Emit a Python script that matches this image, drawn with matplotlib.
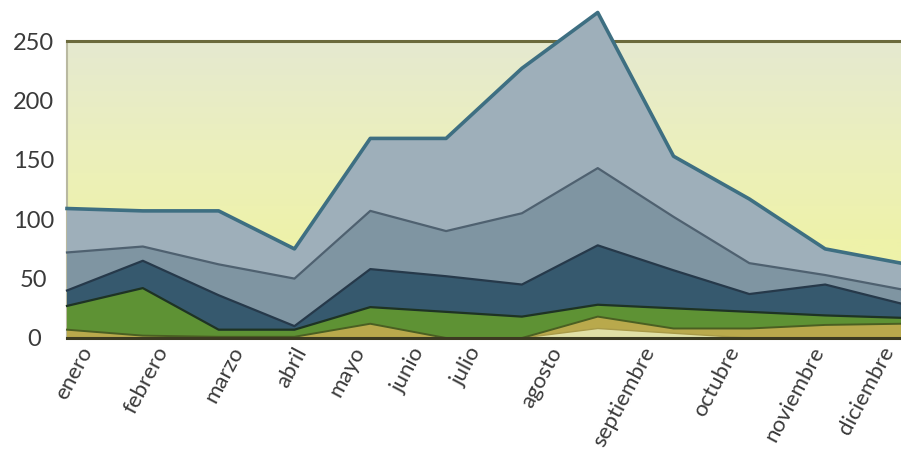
import numpy as np
import matplotlib.pyplot as plt
from matplotlib.colors import LinearSegmentedColormap

meses = ['enero', 'febrero', 'marzo', 'abril', 'mayo', 'junio', 'julio',
         'agosto', 'septiembre', 'octubre', 'noviembre', 'diciembre']

# capas de abajo hacia arriba
capa_clara = [0, 0, 0, 0, 0, 0, 0, 8, 4, 0, 0, 0]
capa_oliva = [7, 2, 1, 1, 12, 0, 0, 10, 4, 8, 11, 12]
capa_verde = [20, 40, 6, 6, 14, 22, 18, 10, 17, 14, 8, 5]
capa_azul = [13, 23, 29, 3, 32, 30, 27, 50, 32, 15, 26, 12]
capa_gris = [32, 12, 26, 40, 49, 38, 60, 65, 45, 26, 8, 12]
capa_celeste = [37, 30, 45, 25, 61, 78, 122, 131, 51, 54, 22, 22]

yticks = [0, 50, 100, 150, 200, 250]

colores = ['#e0e0a6', '#b9a94c', '#5e9234', '#36596e', '#7f95a2', '#9eafba']
bordes = ['#a89a48', '#4a5f22', '#1e3324', '#26394a', '#4f6170', '#3e6f82']
grosor = [1.0, 1.4, 1.6, 1.6, 1.6, 2.6]

# posicion de las etiquetas del eje x (como en el original, algo desplazadas)
pos_etiquetas = [0.15, 1.16, 2.15, 2.98, 3.74, 4.53, 5.28, 6.35, 7.57, 8.69, 9.81, 10.72]

plt.rcParams['font.family'] = ['Lato', 'DejaVu Sans']

fig = plt.figure(figsize=(9.01, 4.53), dpi=100)
ax = fig.add_axes([67 / 901, 1 - 338 / 453, 834 / 901, 297 / 453])

x = np.arange(len(meses))
capas = [capa_clara, capa_oliva, capa_verde, capa_azul, capa_gris, capa_celeste]

# fondo degradado
grad = LinearSegmentedColormap.from_list(
    'fondo', ['#eef2a8', '#eef2aa', '#ebefbe', '#e5e9d0'])
ax.imshow(np.linspace(0, 1, 256).reshape(-1, 1), cmap=grad, aspect='auto',
          extent=[0, 1, 0, 1], transform=ax.transAxes, origin='lower', zorder=0)

polys = ax.stackplot(x, capas, colors=colores, lw=0, zorder=3)
for p in polys:
    p.set_clip_on(False)

acum = np.cumsum(np.array(capas, dtype=float), axis=0)
for i in range(len(capas)):
    ln, = ax.plot(x, acum[i], color=bordes[i], lw=grosor[i], zorder=4,
                  solid_joinstyle='round')
    ln.set_clip_on(False)

ax.set_xlim(0, 11)
ax.set_ylim(0, 250)

ax.spines['right'].set_visible(False)
ax.spines['top'].set_color('#6b6a3c')
ax.spines['top'].set_linewidth(2.2)
ax.spines['top'].set_zorder(2)
ax.spines['left'].set_color('#b9b9a0')
ax.spines['left'].set_linewidth(1.5)
ax.spines['left'].set_zorder(2)
ax.spines['bottom'].set_color('#3c3b22')
ax.spines['bottom'].set_linewidth(2.2)
ax.spines['bottom'].set_zorder(6)

ax.set_yticks(yticks)
ax.set_yticklabels([str(v) for v in yticks], ha='center')
ax.tick_params(axis='y', length=0, pad=24, labelsize=17, labelcolor='#3a3a3a')

ax.set_xticks(pos_etiquetas)
ax.set_xticklabels(meses, rotation=62, ha='right', va='top',
                   rotation_mode='anchor')
ax.tick_params(axis='x', length=0, pad=4, labelsize=16, labelcolor='#3a3a3a')

fig.savefig('out.png', dpi=100, facecolor='white')
